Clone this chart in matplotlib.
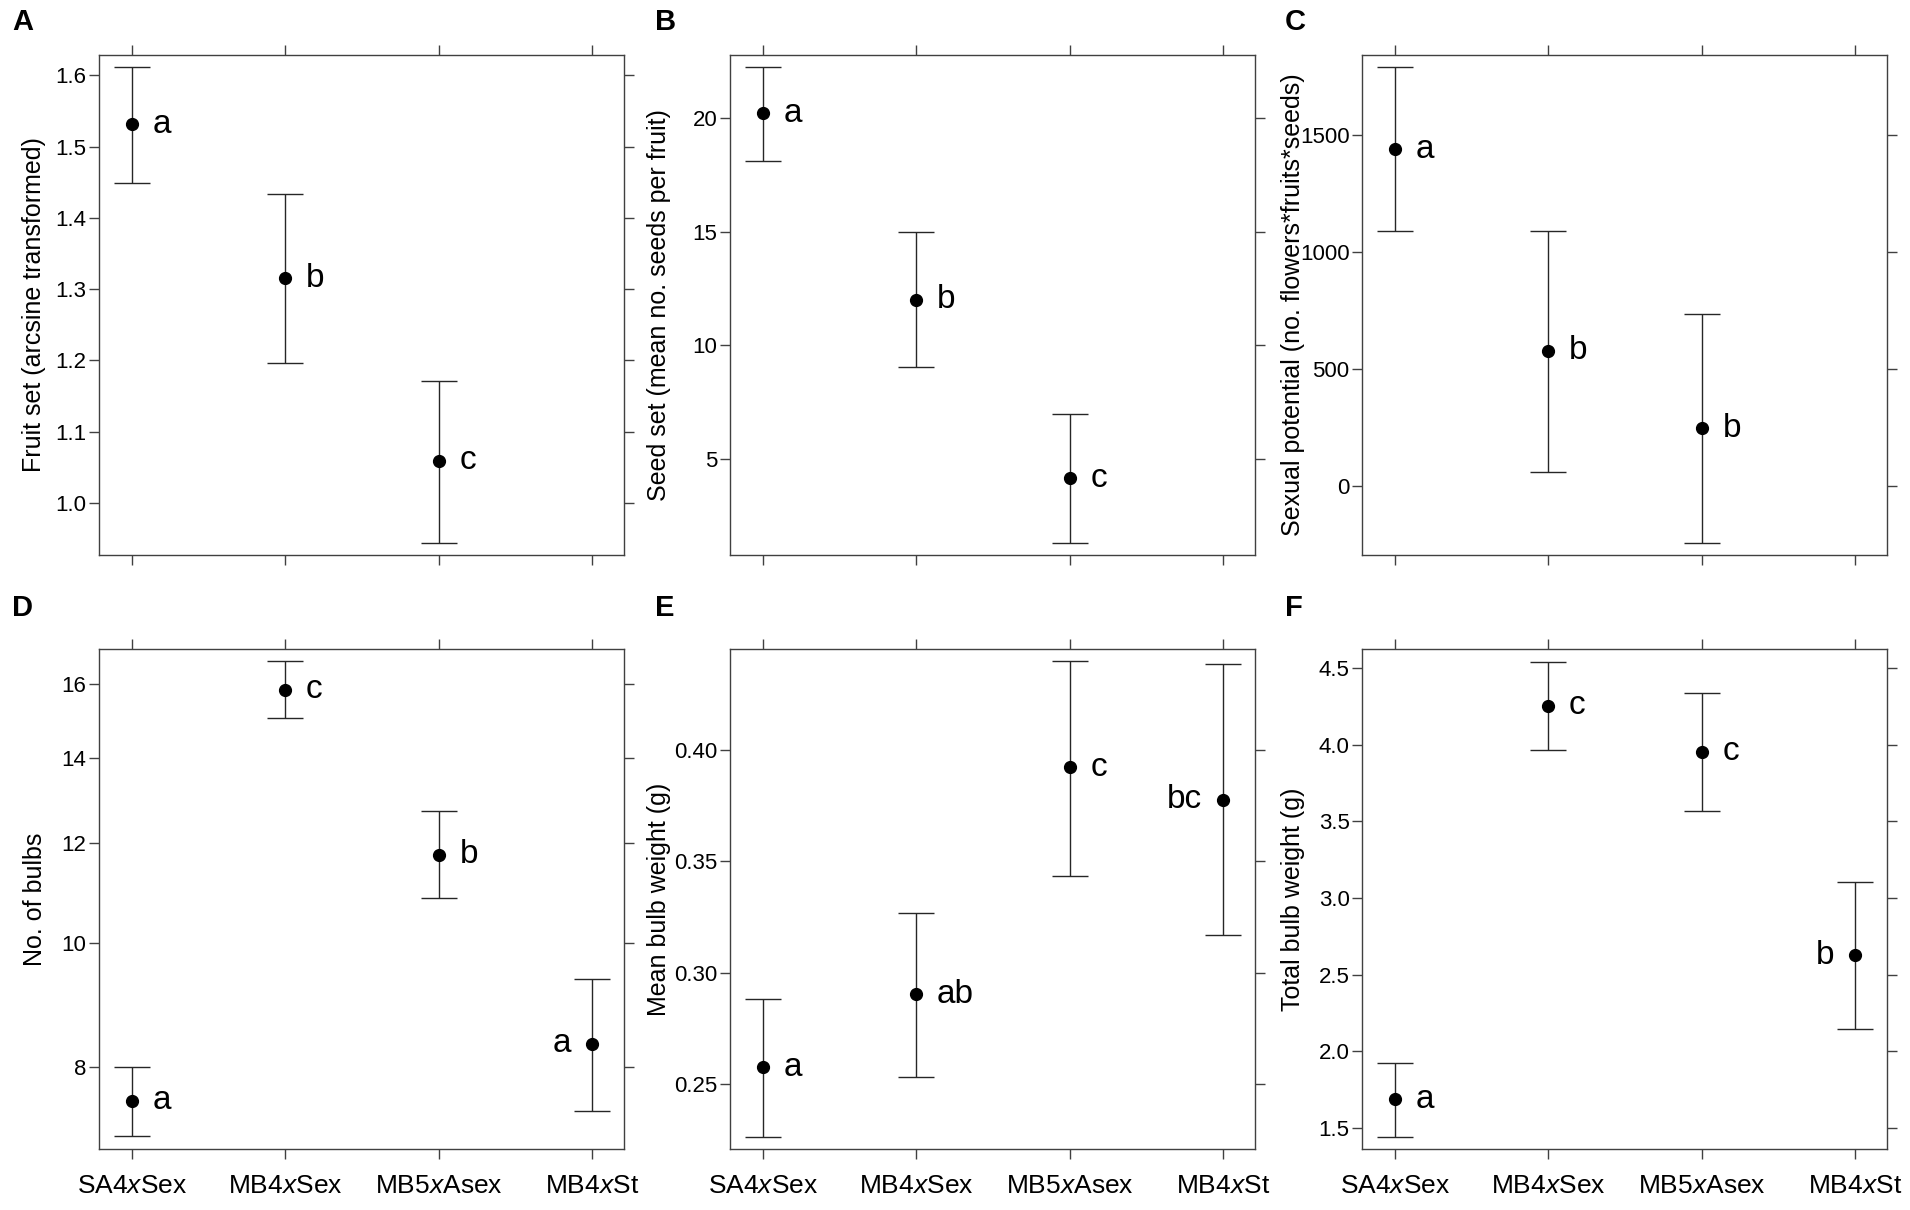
import matplotlib
matplotlib.use("Agg")
import matplotlib.pyplot as plt
from matplotlib import font_manager
from matplotlib.ticker import FixedLocator, FixedFormatter, NullLocator
import numpy as np

names = {f.name for f in font_manager.fontManager.ttflist}
NARROW = "Liberation Sans Narrow" if "Liberation Sans Narrow" in names else "Liberation Sans"
plt.rcParams['font.family'] = ['Liberation Sans', 'DejaVu Sans']
plt.rcParams['mathtext.fontset'] = 'custom'
plt.rcParams['mathtext.rm'] = 'Liberation Sans'
plt.rcParams['mathtext.it'] = 'Liberation Sans:italic'

# ---------------- data ----------------
tick_labels = ["SA4$\\mathit{x}$Sex", "MB4$\\mathit{x}$Sex", "MB5$\\mathit{x}$Asex", "MB4$\\mathit{x}$St"]
panel_letters = ["A", "B", "C", "D", "E", "F"]

ylabels = ["Fruit set (arcsine transformed)",
           "Seed set (mean no. seeds per fruit)",
           "Sexual potential (no. flowers*fruits*seeds)",
           "No. of bulbs",
           "Mean bulb weight (g)",
           "Total bulb weight (g)"]

fruit_mean = [1.531, 1.315, 1.059]
fruit_low = [1.449, 1.196, 0.944]
fruit_high = [1.612, 1.433, 1.171]
fruit_grp = ["a", "b", "c"]

seed_mean = [20.22, 12.01, 4.14]
seed_low = [18.14, 9.02, 1.28]
seed_high = [22.26, 15.0, 6.98]
seed_grp = ["a", "b", "c"]

sexpot_mean = [1438, 576, 246]
sexpot_low = [1088, 59, -246]
sexpot_high = [1790, 1090, 734]
sexpot_grp = ["a", "b", "b"]

bulbs_mean = [7.52, 15.83, 11.74, 8.34]
bulbs_low = [7.05, 15.05, 10.85, 7.38]
bulbs_high = [8.00, 16.66, 12.70, 9.37]
bulbs_grp = ["a", "c", "b", "a"]

mbw_mean = [0.2577, 0.2904, 0.392, 0.3776]
mbw_low = [0.2262, 0.2533, 0.3434, 0.3167]
mbw_high = [0.2883, 0.3266, 0.4395, 0.4386]
mbw_grp = ["a", "ab", "c", "bc"]

tbw_mean = [1.686, 4.256, 3.955, 2.627]
tbw_low = [1.439, 3.968, 3.569, 2.149]
tbw_high = [1.927, 4.543, 4.335, 3.108]
tbw_grp = ["a", "c", "c", "b"]

yticks_A = [1.0, 1.1, 1.2, 1.3, 1.4, 1.5, 1.6]
yticks_B = [5, 10, 15, 20]
yticks_C = [0, 500, 1000, 1500]
yticks_D = [8, 10, 12, 14, 16]
yticks_E = [0.25, 0.30, 0.35, 0.40]
yticks_F = [1.5, 2.0, 2.5, 3.0, 3.5, 4.0, 4.5]

panels = [
    (fruit_mean, fruit_low, fruit_high, fruit_grp, yticks_A, "{:.1f}", (0.927, 1.6285), False),
    (seed_mean, seed_low, seed_high, seed_grp, yticks_B, "{:.0f}", (0.756, 22.79), False),
    (sexpot_mean, sexpot_low, sexpot_high, sexpot_grp, yticks_C, "{:.0f}", (-297, 1841), False),
    (bulbs_mean, bulbs_low, bulbs_high, bulbs_grp, yticks_D, "{:.0f}", (6.89, 17.04), True),
    (mbw_mean, mbw_low, mbw_high, mbw_grp, yticks_E, "{:.2f}", (0.221, 0.4451), False),
    (tbw_mean, tbw_low, tbw_high, tbw_grp, yticks_F, "{:.1f}", (1.363, 4.625), False),
]

# ---------------- layout ----------------
W, H = 1910, 1210
fig = plt.figure(figsize=(W / 100, H / 100), dpi=100)
col_left = [99, 730, 1362]
ax_w = 525
row_top = [55, 649]
ax_h = 500
label_x = [-0.10, -0.113, -0.109]
letter_x = [12, 655, 1285]
letter_y = [22, 608]

line_col = "#262626"
spine_col = "#404040"

for i, (mean, low, high, grp, yt, fmt, ylim, logy) in enumerate(panels):
    r, c = divmod(i, 3)
    ax = fig.add_axes([col_left[c] / W, 1 - (row_top[r] + ax_h) / H, ax_w / W, ax_h / H])
    mean = np.array(mean, dtype=float)
    low = np.array(low, dtype=float)
    high = np.array(high, dtype=float)
    x = np.arange(len(mean))
    ax.errorbar(x, mean, yerr=[mean - low, high - mean], fmt='o', color='black',
                ecolor=line_col, elinewidth=1.0, capsize=13, capthick=1.0,
                markersize=8.5, zorder=3)
    if logy:
        ax.set_yscale('log')
    ax.set_ylim(*ylim)
    ax.set_xlim(-0.215, 3.21)
    ax.yaxis.set_major_locator(FixedLocator(yt))
    ax.yaxis.set_major_formatter(FixedFormatter([fmt.format(v) for v in yt]))
    ax.yaxis.set_minor_locator(NullLocator())
    ax.xaxis.set_major_locator(FixedLocator(range(len(tick_labels))))
    ax.xaxis.set_minor_locator(NullLocator())
    if r == 1:
        ax.set_xticklabels(tick_labels, fontsize=19)
    else:
        ax.set_xticklabels([])
    ax.tick_params(axis='both', direction='out', length=7, width=1.0, color=spine_col,
                   top=True, right=True, labelsize=16)
    ax.tick_params(axis='x', labelsize=19, pad=11)
    ax.tick_params(axis='y', pad=2)
    for lab in ax.get_yticklabels():
        lab.set_family(NARROW)
    for sp in ax.spines.values():
        sp.set_color(spine_col)
        sp.set_linewidth(1.0)
    ax.set_ylabel(ylabels[i], fontsize=18)
    ax.yaxis.set_label_coords(label_x[c], 0.5)
    for j, (xx, yy, g) in enumerate(zip(x, mean, grp)):
        left_side = (r == 1 and j == 3)
        ax.annotate(g, (xx, yy), xytext=(-15 if left_side else 15, 0),
                    textcoords='offset points', ha='right' if left_side else 'left',
                    va='center', fontsize=24)
    fig.text(letter_x[c] / W, 1 - letter_y[r] / H, panel_letters[i], fontsize=21,
             fontweight='bold', va='center', ha='left')

fig.savefig("out.png", dpi=100)
